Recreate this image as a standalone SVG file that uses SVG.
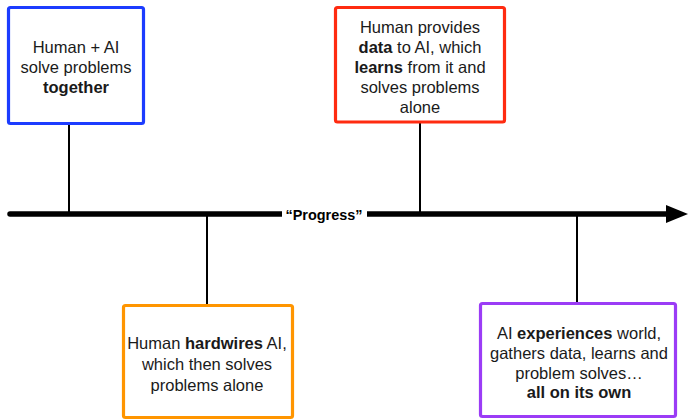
<svg xmlns="http://www.w3.org/2000/svg" width="688" height="420" viewBox="0 0 688 420">
<defs>
<style>
.box{fill:#fff;stroke-width:3.2}
.t{font-family:"Liberation Sans",Arial,sans-serif;font-size:16.5px;fill:#1a1a1a;text-anchor:middle}
.b{font-weight:bold}
.c{stroke:#000;stroke-width:2;fill:none}
</style>
</defs>
<rect width="688" height="420" fill="#fff"/>
<g id="connectors">
<line x1="10" y1="214" x2="668" y2="214" stroke="#000" stroke-width="5.5" stroke-linecap="round"/>
<polygon points="666,205 688,214 666,223" fill="#000"/>
<line class="c" x1="69" y1="123" x2="69" y2="214"/>
<line class="c" x1="420" y1="122" x2="420" y2="214"/>
<line class="c" x1="207" y1="214" x2="207" y2="305"/>
<line class="c" x1="577" y1="214" x2="577" y2="303"/>
<rect x="282" y="205" width="85" height="18" fill="#fff"/>
<text x="324" y="220" font-family="Liberation Sans,Arial,sans-serif" font-size="15" font-weight="bold" text-anchor="middle" fill="#000" textLength="77" lengthAdjust="spacingAndGlyphs">“Progress”</text>
</g>
<g id="node-blue">
<rect class="box" x="8.5" y="7.5" width="135" height="116" rx="2" stroke="#1c3cff"/>
<text class="t" x="76" y="53">Human + AI</text>
<text class="t" x="76" y="73">solve problems</text>
<text class="t b" x="76" y="93">together</text>
</g>
<g id="node-red">
<rect class="box" x="335.5" y="7.5" width="169" height="114.5" rx="2" stroke="#ff2b10"/>
<text class="t" x="420" y="33">Human provides</text>
<text class="t" x="420" y="53"><tspan class="b">data</tspan> to AI, which</text>
<text class="t" x="420" y="73"><tspan class="b">learns</tspan> from it and</text>
<text class="t" x="420" y="93">solves problems</text>
<text class="t" x="420" y="113">alone</text>
</g>
<g id="node-orange">
<rect class="box" x="123.5" y="305.5" width="169" height="112" rx="2" stroke="#ff9500"/>
<text class="t" x="207" y="349">Human <tspan class="b">hardwires</tspan> AI,</text>
<text class="t" x="207" y="370">which then solves</text>
<text class="t" x="207" y="391">problems alone</text>
</g>
<g id="node-purple">
<rect class="box" x="480.5" y="303.5" width="195" height="113" rx="2" stroke="#9b3cf6"/>
<text class="t" x="579" y="339">AI <tspan class="b">experiences</tspan> world,</text>
<text class="t" x="579" y="359">gathers data, learns and</text>
<text class="t" x="579" y="379">problem solves…</text>
<text class="t b" x="579" y="398">all on its own</text>
</g>
</svg>
